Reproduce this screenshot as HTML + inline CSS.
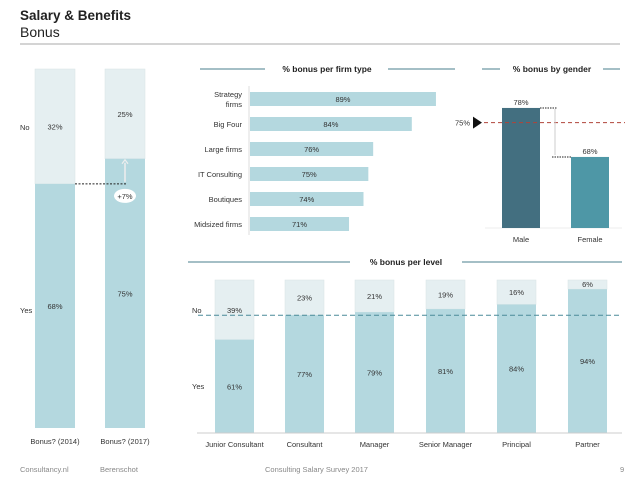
<!DOCTYPE html>
<html><head><meta charset="utf-8"><style>
body{margin:0;background:#fff;width:638px;height:479px;overflow:hidden;font-family:"Liberation Sans",sans-serif}
svg text{font-family:"Liberation Sans",sans-serif}
</style></head><body>
<svg width="638" height="479" viewBox="0 0 638 479">
<text x="20" y="20" font-size="13.5" font-weight="bold" fill="#222">Salary &amp; Benefits</text>
<text x="20" y="37" font-size="14" fill="#222">Bonus</text>
<line x1="20" y1="44" x2="620" y2="44" stroke="#aaa" stroke-width="1"/>
<g id="left"></g>
<g id="firm"></g>
<g id="gender"></g>
<g id="level"></g>
<text x="20" y="472" font-size="7.5" fill="#888">Consultancy.nl</text>
<text x="100" y="472" font-size="7.5" fill="#888">Berenschot</text>
<text x="265" y="472" font-size="7.5" fill="#888">Consulting Salary Survey 2017</text>
<text x="620" y="472" font-size="7.5" fill="#888">9</text>
</svg>
<script>
const yearCats=["Bonus? (2014)","Bonus? (2017)"];
const yearYes=[68,75];
const firmCats=["Strategy firms","Big Four","Large firms","IT Consulting","Boutiques","Midsized firms"];
const firmVals=[89,84,76,75,74,71];
const genderCats=["Male","Female"];
const genderVals=[78,68];
const genderAvg=75;
const levelCats=["Junior Consultant","Consultant","Manager","Senior Manager","Principal","Partner"];
const levelYes=[61,77,79,81,84,94];
const levelAvg=75;

const NS="http://www.w3.org/2000/svg";
const LIGHT="#e5eff1",YES="#b4d8df";
function mk(parent,tag,attrs,txt){const e=document.createElementNS(NS,tag);for(const k in attrs)e.setAttribute(k,attrs[k]);if(txt!==undefined)e.textContent=txt;parent.appendChild(e);return e;}
function title(g,x1,x2,x3,x4,cx,y,t){
 let l=mk(g,'line',{x1:x1,y1:y,x2:x2,y2:y,stroke:'#4a7f8c'});
 l=mk(g,'line',{x1:x3,y1:y,x2:x4,y2:y,stroke:'#4a7f8c'});
 const tt=mk(g,'text',{x:cx,y:y+3,'font-size':8.5,'font-weight':'bold','text-anchor':'middle',fill:'#222'},t);
 
}
// left chart
(function(){const g=document.getElementById('left');const top=69,bot=428,H=bot-top;const xs=[35,105],w=40;
 const y=v=>bot-v/100*H;
 let t=mk(g,'text',{x:20,y:130,'font-size':7.5,fill:'#333'},'No');
 t=mk(g,'text',{x:20,y:313,'font-size':7.5,fill:'#333'},'Yes');
 yearYes.forEach((v,i)=>{const x=xs[i];
  let r=mk(g,'rect',{x:x,y:top,width:w,height:y(v)-top,fill:LIGHT,stroke:'#d8e4e6','stroke-width':0.5});
  r=mk(g,'rect',{x:x,y:y(v),width:w,height:bot-y(v),fill:YES});
  let a=mk(g,'text',{x:x+w/2,y:(top+y(v))/2+3,'font-size':7.5,'text-anchor':'middle',fill:'#333'},(100-v)+'%');
  a=mk(g,'text',{x:x+w/2,y:(y(v)+bot)/2+3,'font-size':7.5,'text-anchor':'middle',fill:'#333'},v+'%');
  a=mk(g,'text',{x:x+w/2,y:444,'font-size':7.5,'text-anchor':'middle',fill:'#333'},yearCats[i]);
 });
 const y0=y(yearYes[0]),y1=y(yearYes[1]),cx=xs[1]+w/2;
 let l=mk(g,'line',{x1:xs[0]+w,y1:y0,x2:cx+2,y2:y0,stroke:'#222','stroke-dasharray':'2,1.5'});
 l=mk(g,'line',{x1:cx,y1:y0-2,x2:cx,y2:y1+4,stroke:'#eee','stroke-width':1.5});
 l=mk(g,'path',{d:`M${cx-3} ${y1+5} L${cx} ${y1+1} L${cx+3} ${y1+5}`,fill:'none',stroke:'#eee','stroke-width':1.2});
 l=mk(g,'ellipse',{cx:cx,cy:y0+12,rx:11,ry:7,fill:'#fff'});
 l=mk(g,'text',{x:cx,y:y0+15,'font-size':7.5,'text-anchor':'middle',fill:'#333'},'+'+(yearYes[1]-yearYes[0])+'%');
})();
// firm chart
(function(){const g=document.getElementById('firm');title(g,200,265,388,455,327,69,'% bonus per firm type');
 const x0=250,min=50.5,k=4.83;const x=v=>x0+(v-min)*k;
 let ax=mk(g,'line',{x1:249,y1:86,x2:249,y2:235,stroke:'#ddd'});
 firmCats.forEach((c,i)=>{const cy=99+i*25;
  let r=mk(g,'rect',{x:x0,y:cy-7,width:x(firmVals[i])-x0,height:14,fill:YES});
  r=mk(g,'text',{x:(x0+x(firmVals[i]))/2,y:cy+3,'font-size':7.5,'text-anchor':'middle',fill:'#333'},firmVals[i]+'%');
  if(c==="Strategy firms"){
   r=mk(g,'text',{x:242,y:cy-2,'font-size':7.5,'text-anchor':'end',fill:'#333'},'Strategy');
   r=mk(g,'text',{x:242,y:cy+8,'font-size':7.5,'text-anchor':'end',fill:'#333'},'firms');
  }else{r=mk(g,'text',{x:242,y:cy+3,'font-size':7.5,'text-anchor':'end',fill:'#333'},c);}
 });
})();
// gender
(function(){const g=document.getElementById('gender');title(g,482,500,603,620,552,69,'% bonus by gender');
 const bot=228,min=53.5,k=4.9;const y=v=>bot-(v-min)*k;const xs=[502,571],w=38,cols=['#436f80','#4e97a6'];
 let b=mk(g,'line',{x1:485,y1:bot,x2:622,y2:bot,stroke:'#eee'});
 genderVals.forEach((v,i)=>{let r=mk(g,'rect',{x:xs[i],y:y(v),width:w,height:bot-y(v),fill:cols[i]});
  r=mk(g,'text',{x:xs[i]+w/2,y:y(v)-3,'font-size':7.5,'text-anchor':'middle',fill:'#333'},v+'%');
  r=mk(g,'text',{x:xs[i]+w/2,y:242,'font-size':7.5,'text-anchor':'middle',fill:'#333'},genderCats[i]);});
 const ya=y(genderAvg);
 let l=mk(g,'line',{x1:484,y1:ya,x2:625,y2:ya,stroke:'#b0443a','stroke-dasharray':'4,3'});
 l=mk(g,'path',{d:`M473 ${ya-6} L482 ${ya} L473 ${ya+6}Z`,fill:'#111'});
 l=mk(g,'text',{x:470,y:ya+3,'font-size':7.5,'text-anchor':'end',fill:'#333'},genderAvg+'%');
 const y1=y(genderVals[0]),y2=y(genderVals[1]);
 l=mk(g,'line',{x1:540,y1:y1,x2:557,y2:y1,stroke:'#222','stroke-dasharray':'1.5,1'});
 l=mk(g,'line',{x1:552,y1:y2,x2:571,y2:y2,stroke:'#222','stroke-dasharray':'1.5,1'});
 l=mk(g,'line',{x1:555,y1:y1+1,x2:555,y2:y2-2,stroke:'#ccc'});
})();
// level
(function(){const g=document.getElementById('level');title(g,188,350,462,622,406,262,'% bonus per level');
 const top=280,bot=433,H=bot-top;const y=v=>bot-v/100*H;const xs=[215,285,355,426,497,568],w=39;
 let t=mk(g,'text',{x:192,y:313,'font-size':7.5,fill:'#333'},'No');
 t=mk(g,'text',{x:192,y:389,'font-size':7.5,fill:'#333'},'Yes');
 levelCats.forEach((c,i)=>{const v=levelYes[i],x=xs[i];
  let r=mk(g,'rect',{x:x,y:top,width:w,height:y(v)-top,fill:LIGHT,stroke:'#d8e4e6','stroke-width':0.5});
  r=mk(g,'rect',{x:x,y:y(v),width:w,height:bot-y(v),fill:YES});
  const ny=(100-v)<10?top+7:(top+y(v))/2+3;
  r=mk(g,'text',{x:x+w/2,y:ny,'font-size':7.5,'text-anchor':'middle',fill:'#333'},(100-v)+'%');
  r=mk(g,'text',{x:x+w/2,y:(y(v)+bot)/2+3,'font-size':7.5,'text-anchor':'middle',fill:'#333'},v+'%');
  r=mk(g,'text',{x:x+w/2,y:447,'font-size':7.5,'text-anchor':'middle',fill:'#333'},c);
 });
 let l=mk(g,'line',{x1:197,y1:bot,x2:622,y2:bot,stroke:'#ccc'});
 l=mk(g,'line',{x1:198,y1:y(levelAvg)-3,x2:622,y2:y(levelAvg)-3,stroke:'#4a8a99','stroke-dasharray':'5,3'});
})();
</script>
</body></html>
